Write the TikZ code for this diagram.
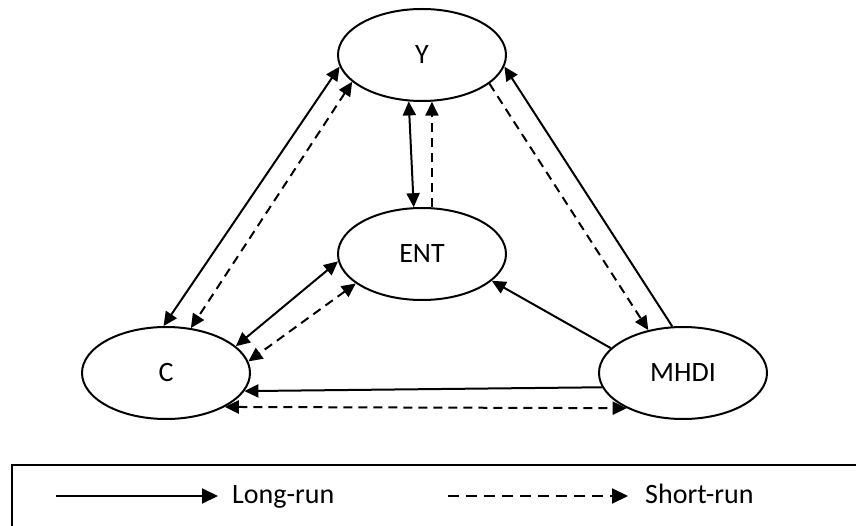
\documentclass[tikz,border=0pt]{standalone}
\usepackage{fontspec}
\setmainfont{Carlito}
\usetikzlibrary{arrows.meta,shapes.geometric}

\begin{document}
\begin{tikzpicture}[x=1pt,y=1pt,yscale=-1,>={Triangle[length=14pt,width=13pt]},
    var/.style={draw,ellipse,line width=2pt,minimum width=168pt,minimum height=92pt,inner sep=0pt,font=\fontsize{28}{32}\selectfont},
    lrun/.style={line width=2pt},
    srun/.style={line width=2pt,dash pattern=on 9pt off 6pt},
    keytext/.style={anchor=base west,inner sep=0pt,font=\fontsize{28}{32}\selectfont}]

    \useasboundingbox (0,0) rectangle (856,526);
    \clip (0,0) rectangle (856,526);

    % variables
    \node[var] (Y) at (422,55) {Y};
    \node[var] (ENT) at (422,254) {ENT};
    \node[var] (C) at (166,373) {C};
    \node[var] (MHDI) at (683,373) {MHDI};

    % long-run links
    \draw[lrun,<->] (Y.188.8) -- (C.93.6);
    \draw[lrun,<->] (Y.254.5) -- (ENT.100.8);
    \draw[lrun,<->] (ENT.185.4) -- (C.21.5);
    \draw[lrun,->] (MHDI.103.4) -- (Y.352);
    \draw[lrun,->] (MHDI.161.8) -- (ENT.339);
    \draw[lrun,->] (MHDI.190.9) -- (C.347.5);

    % short-run links
    \draw[srun,<->] (Y.201) -- (C.61.6);
    \draw[srun,->] (ENT.78) -- (Y.282);
    \draw[srun,<->] (ENT.204.4) -- (C.8);
    \draw[srun,->] (Y.337.4) -- (MHDI.129.2);
    \draw[srun,<->] (C.330.6) -- (MHDI.212.7);

    % legend
    \draw[line width=1.3pt] (12,465) rectangle (870,540);
    \node[keytext] (lrlabel) at (232,503) {Long-run};
    \node[keytext] (srlabel) at (645,503) {Short-run};
    \coordinate (lrstart) at (56,496);
    \coordinate (lrend) at (218,496);
    \coordinate (srstart) at (448,496);
    \coordinate (srend) at (628,496);
    \draw[lrun,-{Triangle[length=16pt,width=15pt]}] (lrstart) -- (lrend);
    \draw[lrun,dash pattern=on 11pt off 7pt,-{Triangle[length=16pt,width=15pt]}] (srstart) -- (srend);
\end{tikzpicture}
\end{document}
